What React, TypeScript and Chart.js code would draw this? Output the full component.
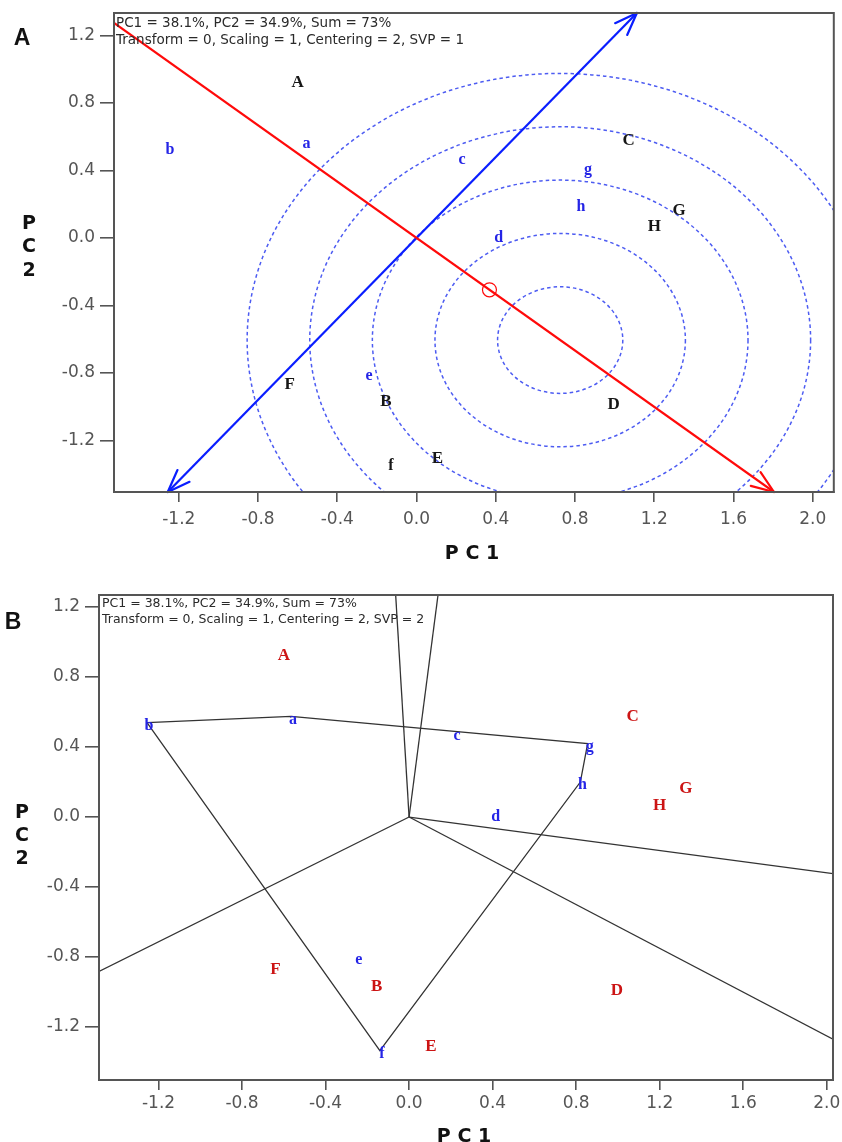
import React, { useEffect, useRef } from 'react';
import { Chart, registerables } from 'chart.js';

Chart.register(...registerables);

// ---------------- data ----------------
const genotypeNames = ['A', 'B', 'C', 'D', 'E', 'F', 'G', 'H'];
const genotypePC1 = [-0.6, -0.155, 1.07, 0.995, 0.105, -0.64, 1.325, 1.2];
const genotypePC2 = [0.92, -0.97, 0.575, -0.99, -1.31, -0.87, 0.165, 0.065];

const environmentNames = ['a', 'b', 'c', 'd', 'e', 'f', 'g', 'h'];
const environmentPC1 = [-0.565, -1.255, 0.22, 0.405, -0.25, -0.14, 0.855, 0.82];
const environmentPC2 = [0.575, 0.54, 0.48, 0.02, -0.8, -1.335, 0.42, 0.2];

// panel A construct values
const averageEnvironment = [0.368, -0.307];
const idealPoint = [0.725, -0.605];
const ringRadii = [0.316, 0.632, 0.948, 1.264, 1.58];
const blackEnvironmentsA = ['f'];

// axes
const tickStep = 0.4;
const rangeA = { xMin: -1.527, xMax: 2.106, yMin: -1.505, yMax: 1.333 };
const rangeB = { xMin: -1.485, xMax: 2.03, yMin: -1.503, yMax: 1.269 };

const infoLinesA = ['PC1 = 38.1%, PC2 = 34.9%, Sum = 73%', 'Transform = 0, Scaling = 1, Centering = 2, SVP = 1'];
const infoLinesB = ['PC1 = 38.1%, PC2 = 34.9%, Sum = 73%', 'Transform = 0, Scaling = 1, Centering = 2, SVP = 2'];

// ---------------- styles ----------------
const RED = '#ff0a0a';
const BLUE = '#0a1eff';
const LABEL_BLUE = '#2424e6';
const LABEL_RED = '#cc1414';
const AXIS_GREY = '#555555';
const SANS = "'DejaVu Sans', sans-serif";
const SERIF = "'Liberation Serif', serif";

// ---------------- helpers ----------------
type P = { x: number; y: number };
type R = { xMin: number; xMax: number; yMin: number; yMax: number };

const toPoints = (xs: number[], ys: number[]): P[] => xs.map((x, i) => ({ x, y: ys[i] }));

function clipRay(dx: number, dy: number, r: R): P {
  let t = Infinity;
  if (dx > 0) t = Math.min(t, r.xMax / dx);
  if (dx < 0) t = Math.min(t, r.xMin / dx);
  if (dy > 0) t = Math.min(t, r.yMax / dy);
  if (dy < 0) t = Math.min(t, r.yMin / dy);
  return { x: t * dx, y: t * dy };
}

function convexHull(p: P[]): P[] {
  const s = [...p].sort((a, b) => a.x - b.x || a.y - b.y);
  const cross = (o: P, a: P, b: P) => (a.x - o.x) * (b.y - o.y) - (a.y - o.y) * (b.x - o.x);
  const lower: P[] = [];
  for (const q of s) {
    while (lower.length >= 2 && cross(lower[lower.length - 2], lower[lower.length - 1], q) <= 0) lower.pop();
    lower.push(q);
  }
  const upper: P[] = [];
  for (let i = s.length - 1; i >= 0; i--) {
    const q = s[i];
    while (upper.length >= 2 && cross(upper[upper.length - 2], upper[upper.length - 1], q) <= 0) upper.pop();
    upper.push(q);
  }
  upper.pop();
  lower.pop();
  return lower.concat(upper);
}

function axis(isX: boolean, min: number, max: number, size: number, tickLen: number, pad: number) {
  return {
    type: 'linear',
    position: isX ? 'bottom' : 'left',
    min,
    max,
    ticks: {
      stepSize: tickStep,
      includeBounds: false,
      autoSkip: false,
      maxRotation: 0,
      minRotation: 0,
      padding: pad,
      color: AXIS_GREY,
      font: { family: SANS, size: 17 },
      callback: (v: any) => Number(v).toFixed(1),
    },
    grid: {
      display: true,
      drawOnChartArea: false,
      drawTicks: true,
      tickLength: tickLen,
      color: AXIS_GREY,
      lineWidth: 1.6,
    },
    border: { display: true, color: AXIS_GREY, width: 2 },
    afterFit: (s: any) => {
      if (isX) {
        s.height = size;
        s.paddingLeft = 0;
        s.paddingRight = 0;
      } else {
        s.width = size;
        s.paddingTop = 0;
        s.paddingBottom = 0;
      }
    },
  };
}

// ---------------- plugins ----------------
const labelPlugin = {
  id: 'pointTexts',
  afterDatasetsDraw(chart: any) {
    const ctx = chart.ctx;
    chart.data.datasets.forEach((ds: any, i: number) => {
      if (!ds.pointTexts) return;
      const meta = chart.getDatasetMeta(i);
      ctx.save();
      ctx.font = ds.textFont;
      ctx.textAlign = 'center';
      ctx.textBaseline = 'middle';
      meta.data.forEach((el: any, j: number) => {
        ctx.fillStyle = ds.textColors[j];
        ctx.fillText(ds.pointTexts[j], el.x + (ds.textDx || 0), el.y + (ds.textDy || 0));
      });
      ctx.restore();
    });
  },
};

const arrowPlugin = {
  id: 'arrowHeads',
  afterDatasetsDraw(chart: any) {
    const ctx = chart.ctx;
    chart.data.datasets.forEach((ds: any, i: number) => {
      if (!ds.arrowAt) return;
      const pts = chart.getDatasetMeta(i).data;
      ctx.save();
      ctx.strokeStyle = ds.borderColor;
      ctx.lineWidth = 2.2;
      ctx.lineCap = 'round';
      for (const k of ds.arrowAt) {
        const tip = pts[k];
        const from = pts[k === 0 ? 1 : 0];
        const ang = Math.atan2(tip.y - from.y, tip.x - from.x);
        const L = 24;
        const A = 0.36;
        ctx.beginPath();
        for (const s of [-1, 1]) {
          ctx.moveTo(tip.x, tip.y);
          ctx.lineTo(tip.x - L * Math.cos(ang + s * A), tip.y - L * Math.sin(ang + s * A));
        }
        ctx.stroke();
      }
      ctx.restore();
    });
  },
};

function ringPlugin(center: number[], radii: number[]) {
  return {
    id: 'rings',
    beforeDatasetsDraw(chart: any) {
      const { ctx, chartArea: a, scales } = chart;
      const x = scales.x;
      const y = scales.y;
      const cx = x.getPixelForValue(center[0]);
      const cy = y.getPixelForValue(center[1]);
      ctx.save();
      ctx.beginPath();
      ctx.rect(a.left, a.top, a.right - a.left, a.bottom - a.top);
      ctx.clip();
      ctx.strokeStyle = '#4d5cf2';
      ctx.lineWidth = 1.5;
      ctx.setLineDash([3.5, 3]);
      for (const r of radii) {
        const rx = Math.abs(x.getPixelForValue(center[0] + r) - cx);
        const ry = Math.abs(y.getPixelForValue(center[1] + r) - cy);
        ctx.beginPath();
        ctx.ellipse(cx, cy, rx, ry, 0, 0, Math.PI * 2);
        ctx.stroke();
      }
      ctx.restore();
    },
  };
}

function framePlugin(lines: string[], fontSize: number, dx: number, dys: number[]) {
  return {
    id: 'frameInfo',
    afterDraw(chart: any) {
      const { ctx, chartArea: a } = chart;
      ctx.save();
      ctx.strokeStyle = AXIS_GREY;
      ctx.lineWidth = 2;
      ctx.strokeRect(a.left, a.top, a.right - a.left, a.bottom - a.top);
      ctx.fillStyle = '#2a2a2a';
      ctx.font = `${fontSize}px ${SANS}`;
      ctx.textAlign = 'left';
      ctx.textBaseline = 'middle';
      lines.forEach((t, i) => ctx.fillText(t, a.left + dx, a.top + dys[i]));
      ctx.restore();
    },
  };
}

function baseOptions(r: R, g: any) {
  return {
    responsive: false,
    animation: false,
    devicePixelRatio: 1,
    events: [],
    layout: { padding: { left: 0, top: g.top, right: g.right, bottom: 0 } },
    plugins: { legend: { display: false }, tooltip: { enabled: false }, title: { display: false } },
    scales: {
      x: axis(true, r.xMin, r.xMax, g.xSize, g.xTick, g.xPad),
      y: axis(false, r.yMin, r.yMax, g.ySize, g.yTick, g.yPad),
    },
  };
}

// ---------------- chart configs ----------------
function configA(): any {
  const r = rangeA;
  const [ax, ay] = averageEnvironment;
  const redLine = [clipRay(-ax, -ay, r), clipRay(ax, ay, r)];
  const blueLine = [clipRay(ay, -ax, r), clipRay(-ay, ax, r)];
  return {
    type: 'scatter',
    data: {
      datasets: [
        { data: redLine, showLine: true, borderColor: RED, borderWidth: 2.2, pointRadius: 0, clip: 0, arrowAt: [1] },
        { data: blueLine, showLine: true, borderColor: BLUE, borderWidth: 2.2, pointRadius: 0, clip: 0, arrowAt: [0, 1] },
        {
          data: [{ x: ax, y: ay }],
          pointRadius: 7,
          pointBorderColor: RED,
          pointBackgroundColor: 'rgba(0,0,0,0)',
          pointBorderWidth: 1.2,
        },
        {
          data: toPoints(genotypePC1, genotypePC2),
          pointRadius: 0,
          pointTexts: genotypeNames,
          textFont: `bold 17px ${SERIF}`,
          textColors: genotypeNames.map(() => '#161616'),
        },
        {
          data: toPoints(environmentPC1, environmentPC2),
          pointRadius: 0,
          pointTexts: environmentNames,
          textFont: `bold 16px ${SERIF}`,
          textColors: environmentNames.map((n) => (blackEnvironmentsA.includes(n) ? '#161616' : LABEL_BLUE)),
          textDx: 2,
          textDy: 3,
        },
      ],
    },
    options: baseOptions(r, { top: 13, right: 7, xSize: 78, xTick: 10, xPad: 7, ySize: 114, yTick: 14, yPad: 5 }),
    plugins: [ringPlugin(idealPoint, ringRadii), labelPlugin, arrowPlugin, framePlugin(infoLinesA, 13.5, 2, [10, 27])],
  };
}

function configB(): any {
  const r = rangeB;
  const envPts = toPoints(environmentPC1, environmentPC2);
  const hull = convexHull(envPts);
  const rays = hull.map((p, i) => {
    const q = hull[(i + 1) % hull.length];
    const dx = q.x - p.x;
    const dy = q.y - p.y;
    return [{ x: 0, y: 0 }, clipRay(dy, -dx, r)];
  });
  const lineStyle = { showLine: true, borderColor: '#333333', borderWidth: 1.3, pointRadius: 0, clip: 0 };
  return {
    type: 'scatter',
    data: {
      datasets: [
        { data: [...hull, hull[0]], ...lineStyle },
        ...rays.map((d) => ({ data: d, ...lineStyle })),
        {
          data: toPoints(genotypePC1, genotypePC2),
          pointRadius: 0,
          pointTexts: genotypeNames,
          textFont: `bold 17px ${SERIF}`,
          textColors: genotypeNames.map(() => LABEL_RED),
        },
        {
          data: envPts,
          pointRadius: 0,
          pointTexts: environmentNames,
          textFont: `bold 16px ${SERIF}`,
          textColors: environmentNames.map(() => LABEL_BLUE),
          textDx: 2,
          textDy: 3,
        },
      ],
    },
    options: baseOptions(r, { top: 25, right: 9, xSize: 62, xTick: 10, xPad: 3, ySize: 99, yTick: 14, yPad: 5 }),
    plugins: [labelPlugin, framePlugin(infoLinesB, 12.5, 3, [9, 25])],
  };
}

// ---------------- components ----------------
function ChartCanvas({ build, top, height }: { build: () => any; top: number; height: number }) {
  const ref = useRef<HTMLCanvasElement | null>(null);
  useEffect(() => {
    const chart = new Chart(ref.current as HTMLCanvasElement, build());
    return () => chart.destroy();
  }, []);
  return (
    <canvas
      ref={ref}
      width={842}
      height={height}
      style={{ position: 'absolute', left: 0, top, width: 842, height }}
    />
  );
}

function Txt({ x, y, size, family, children }: { x: number; y: number; size: number; family: string; children: any }) {
  return (
    <div
      style={{
        position: 'absolute',
        left: x,
        top: y,
        transform: 'translate(-50%, -50%)',
        fontFamily: family,
        fontSize: size,
        fontWeight: 'bold',
        lineHeight: 1,
        color: '#111111',
        whiteSpace: 'pre',
      }}
    >
      {children}
    </div>
  );
}

export default function App() {
  const title = "'DejaVu Sans', sans-serif";
  const panel = "'Liberation Sans', Arial, sans-serif";
  return (
    <div style={{ position: 'absolute', left: 0, top: 0, width: 842, height: 1142, background: '#ffffff', overflow: 'hidden' }}>
      <ChartCanvas build={configA} top={0} height={570} />
      <ChartCanvas build={configB} top={570} height={572} />
      <Txt x={22} y={37} size={23} family={panel}>A</Txt>
      <Txt x={13} y={621} size={23} family={panel}>B</Txt>
      <Txt x={472} y={552} size={19} family={title}>P C 1</Txt>
      <Txt x={29} y={222} size={19} family={title}>P</Txt>
      <Txt x={29} y={245} size={19} family={title}>C</Txt>
      <Txt x={29} y={269} size={19} family={title}>2</Txt>
      <Txt x={464} y={1135} size={19} family={title}>P C 1</Txt>
      <Txt x={22} y={811} size={19} family={title}>P</Txt>
      <Txt x={22} y={834} size={19} family={title}>C</Txt>
      <Txt x={22} y={857} size={19} family={title}>2</Txt>
    </div>
  );
}
